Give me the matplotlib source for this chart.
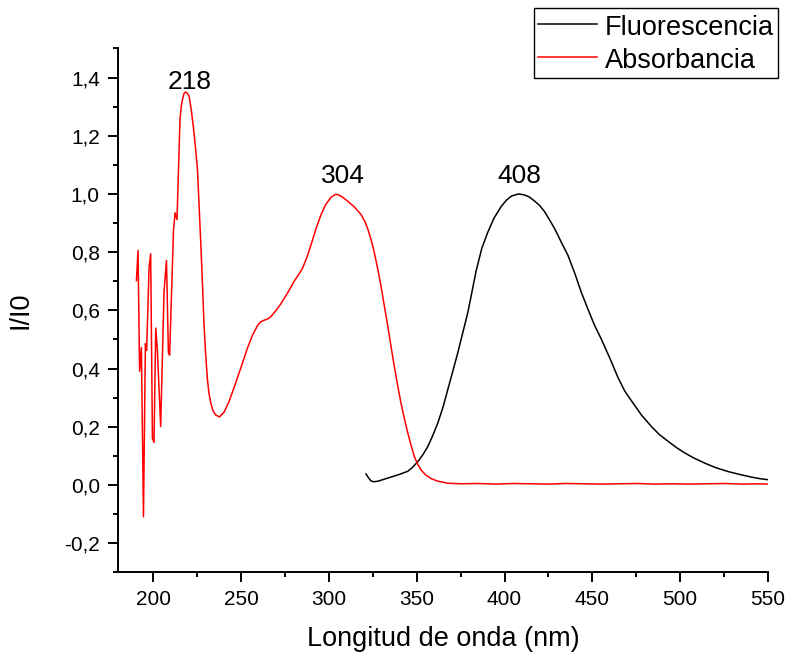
import matplotlib
matplotlib.use("Agg")
import matplotlib.pyplot as plt
from matplotlib.ticker import MultipleLocator, FuncFormatter

plt.rcParams['font.family'] = ['Liberation Sans', 'DejaVu Sans']

# absorbance spectrum (red)
abs_nm = [190.4, 191.3, 192.2, 193.2, 194.4, 195.5, 196.2, 197.6, 198.5, 199.5,
          200.4, 201.4, 202.3, 204.2, 206.1, 207.5, 208.6, 209.3, 211.5, 212.4,
          213.5, 215.2, 215.9, 216.6, 217.5, 218.3, 219.3, 220.4, 221.6, 222.9,
          224.0, 225.1, 226.0, 227.0, 228.0, 228.9, 229.8, 230.8, 231.7, 232.7,
          234.0, 235.6, 237.7, 240.3, 243.0, 246.0, 250.0, 253.6, 256.5, 259.3,
          261.0, 263.1, 265.0, 266.9, 269.5, 272.6, 276.5, 280.2, 283.0, 285.0,
          287.5, 289.7, 292.5, 295.4, 298.0, 301.1, 303.5, 305.0, 307.5, 310.7,
          314.5, 318.2, 320.5, 322.1, 324.0, 325.8, 327.7, 329.6, 331.5, 333.5,
          335.3, 337.2, 339.1, 341.0, 343.0, 344.9, 346.8, 348.6, 350.5, 352.4,
          355.0, 358.2, 362.0, 367.7, 375.0, 385.0, 395.0, 405.0, 415.0, 425.0,
          435.0, 445.0, 455.0, 465.0, 475.0, 485.0, 495.0, 505.0, 515.0, 525.0,
          535.0, 545.0, 550.0]
abs_val = [0.702, 0.806, 0.391, 0.472, -0.109, 0.486, 0.463, 0.748, 0.794, 0.161,
           0.146, 0.539, 0.466, 0.201, 0.662, 0.771, 0.455, 0.446, 0.875, 0.935,
           0.912, 1.255, 1.300, 1.324, 1.345, 1.350, 1.346, 1.336, 1.290, 1.226,
           1.160, 1.088, 0.970, 0.835, 0.690, 0.547, 0.450, 0.363, 0.315, 0.282,
           0.255, 0.240, 0.234, 0.250, 0.285, 0.335, 0.405, 0.470, 0.515, 0.547,
           0.560, 0.566, 0.570, 0.578, 0.597, 0.622, 0.660, 0.700, 0.725, 0.745,
           0.783, 0.823, 0.878, 0.927, 0.962, 0.988, 0.998, 0.998, 0.990, 0.975,
           0.955, 0.930, 0.905, 0.880, 0.843, 0.800, 0.745, 0.685, 0.617, 0.547,
           0.478, 0.409, 0.343, 0.282, 0.227, 0.179, 0.136, 0.098, 0.072, 0.052,
           0.035, 0.022, 0.013, 0.006, 0.004, 0.005, 0.003, 0.005, 0.004, 0.003,
           0.005, 0.004, 0.003, 0.004, 0.005, 0.003, 0.004, 0.003, 0.004, 0.005,
           0.003, 0.004, 0.003]

# fluorescence spectrum (black)
fl_nm = [321.1, 322.5, 324.0, 325.5, 328.0, 330.0, 335.3, 340.0, 344.9, 347.5,
         350.6, 353.5, 356.3, 359.0, 362.0, 365.0, 367.7, 370.5, 373.4, 376.3,
         379.1, 381.5, 383.8, 387.0, 390.5, 394.0, 398.0, 401.0, 404.0, 408.0,
         411.0, 414.0, 417.0, 420.0, 422.8, 425.5, 428.5, 432.0, 436.1, 440.0,
         443.7, 447.5, 451.0, 455.1, 460.0, 464.6, 468.5, 473.1, 478.0, 483.6,
         488.0, 493.1, 498.0, 502.6, 508.0, 514.0, 520.0, 527.3, 534.0, 540.6,
         545.0, 550.0]
fl_val = [0.038, 0.025, 0.014, 0.011, 0.013, 0.017, 0.027, 0.036, 0.047, 0.060,
          0.080, 0.104, 0.132, 0.168, 0.213, 0.268, 0.328, 0.390, 0.455, 0.525,
          0.593, 0.665, 0.735, 0.812, 0.869, 0.917, 0.956, 0.978, 0.993, 1.000,
          0.997, 0.990, 0.976, 0.960, 0.939, 0.912, 0.881, 0.838, 0.789, 0.727,
          0.662, 0.604, 0.552, 0.501, 0.435, 0.369, 0.322, 0.282, 0.240, 0.201,
          0.174, 0.150, 0.128, 0.110, 0.092, 0.075, 0.060, 0.046, 0.036, 0.027,
          0.022, 0.018]

peak_labels = ["218", "304", "408"]
peak_x = [220.4, 308.2, 408.3]
peak_y = [1.383, 1.06, 1.06]

fig = plt.figure(figsize=(7.91, 6.55), dpi=100)
ax = fig.add_axes([0.1494, 0.1263, 0.8215, 0.7998])

ax.plot(fl_nm, fl_val, color='black', lw=1.1, label='Fluorescencia')
ax.plot(abs_nm, abs_val, color='red', lw=1.1, label='Absorbancia')

for t, px, py in zip(peak_labels, peak_x, peak_y):
    ax.text(px, py, t, ha='center', va='center', fontsize=19)

ax.set_xlim(180, 550)
ax.set_ylim(-0.3, 1.5)
ax.xaxis.set_major_locator(MultipleLocator(50))
ax.xaxis.set_minor_locator(MultipleLocator(25))
ax.yaxis.set_major_locator(MultipleLocator(0.2))
ax.yaxis.set_minor_locator(MultipleLocator(0.1))
ax.yaxis.set_major_formatter(FuncFormatter(lambda v, p: f"{v:.1f}".replace('.', ',').replace('-0,0', '0,0')))
ax.xaxis.set_major_formatter(FuncFormatter(lambda v, p: f"{v:.0f}"))

for s in ['top', 'right']:
    ax.spines[s].set_visible(False)
for s in ['left', 'bottom']:
    ax.spines[s].set_linewidth(1.4)

ax.tick_params(which='major', direction='out', length=7.2, width=1.4, labelsize=15)
ax.tick_params(axis='y', which='major', pad=6)
ax.tick_params(axis='x', which='major', pad=5.5)
ax.tick_params(which='minor', direction='out', length=3.6, width=1.4)

ax.set_xlabel('Longitud de onda (nm)', fontsize=19.5, labelpad=12)
ax.set_ylabel('I/I0', fontsize=19.5, labelpad=22)

ax.legend(loc='upper right', bbox_to_anchor=(778 / 791, 1 - 8 / 655),
          bbox_transform=fig.transFigure, borderaxespad=0, fancybox=False,
          edgecolor='black', framealpha=1, fontsize=19.5, handlelength=2.15,
          handleheight=1.2, handletextpad=0.3, borderpad=0.15,
          labelspacing=0.15)

fig.savefig('out.png', dpi=100)
